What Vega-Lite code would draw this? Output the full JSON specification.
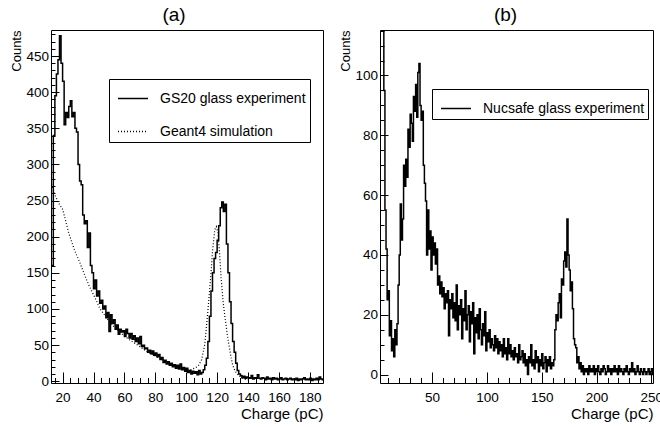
{
  "$schema": "https://vega.github.io/schema/vega-lite/v6.json",
  "background": "white",
  "padding": {"left": 10, "top": 5, "right": 0, "bottom": 0},
  "bounds": "flush",
  "spacing": 57,
  "resolve": {"scale": {"strokeDash": "independent"}, "legend": {"strokeDash": "independent"}},
  "config": {
    "font": "Liberation Sans",
    "view": {"stroke": "black", "strokeWidth": 1},
    "axis": {"grid": false, "domain": false, "tickColor": "black", "labelColor": "black", "titleColor": "black", "labelFontSize": 13.5, "titleFontWeight": "normal", "labelFont": "Liberation Sans", "titleFont": "Liberation Sans", "labelOverlap": false, "labelFlush": false, "tickWidth": 1},
    "title": {"font": "Liberation Sans", "fontSize": 19, "fontWeight": "normal", "color": "black"},
    "legend": {"orient": "none", "title": null, "strokeColor": "black", "fillColor": "white", "padding": 3.5, "symbolType": "stroke", "symbolSize": 900, "symbolStrokeWidth": 1.5, "symbolStrokeColor": "black", "labelFontSize": 14, "labelFont": "Liberation Sans", "labelColor": "black", "labelLimit": 400, "rowPadding": 10, "symbolOffset": 4.5, "labelOffset": 11}
  },
  "datasets": {
    "aexp": [
      {"x":13,"y":160},{"x":14,"y":340},{"x":15,"y":395},{"x":16,"y":425},{"x":17,"y":445},{"x":18,"y":478},{"x":19,"y":440},{"x":20,"y":415},{"x":21,"y":355},{"x":22,"y":372},
      {"x":23,"y":365},{"x":24,"y":380},{"x":25,"y":388},{"x":26,"y":366},{"x":27,"y":372},{"x":28,"y":350},{"x":29,"y":345},{"x":30,"y":300},{"x":31,"y":277},{"x":32,"y":272},
      {"x":33,"y":230},{"x":34,"y":218},{"x":35,"y":222},{"x":36,"y":185},{"x":37,"y":205},{"x":38,"y":160},{"x":39,"y":150},{"x":40,"y":128},{"x":41,"y":140},{"x":42,"y":118},
      {"x":43,"y":125},{"x":44,"y":108},{"x":45,"y":112},{"x":46,"y":100},{"x":47,"y":104},{"x":48,"y":88},{"x":49,"y":95},{"x":50,"y":69},{"x":51,"y":92},{"x":52,"y":80},
      {"x":53,"y":85},{"x":54,"y":72},{"x":55,"y":78},{"x":56,"y":65},{"x":57,"y":72},{"x":58,"y":68},{"x":59,"y":70},{"x":60,"y":62},{"x":61,"y":72},{"x":62,"y":66},
      {"x":63,"y":60},{"x":64,"y":66},{"x":65,"y":58},{"x":66,"y":63},{"x":67,"y":55},{"x":68,"y":60},{"x":69,"y":52},{"x":70,"y":62},{"x":71,"y":48},{"x":72,"y":50},
      {"x":73,"y":45},{"x":74,"y":46},{"x":75,"y":40},{"x":76,"y":43},{"x":77,"y":38},{"x":78,"y":42},{"x":79,"y":36},{"x":80,"y":39},{"x":81,"y":34},{"x":82,"y":37},
      {"x":83,"y":30},{"x":84,"y":33},{"x":85,"y":26},{"x":86,"y":29},{"x":87,"y":24},{"x":88,"y":27},{"x":89,"y":22},{"x":90,"y":25},{"x":91,"y":20},{"x":92,"y":23},
      {"x":93,"y":18},{"x":94,"y":22},{"x":95,"y":17},{"x":96,"y":24},{"x":97,"y":16},{"x":98,"y":19},{"x":99,"y":14},{"x":100,"y":18},{"x":101,"y":12},{"x":102,"y":15},
      {"x":103,"y":10},{"x":104,"y":14},{"x":105,"y":11},{"x":106,"y":13},{"x":107,"y":9},{"x":108,"y":15},{"x":109,"y":10},{"x":110,"y":12},{"x":111,"y":16},{"x":112,"y":22},
      {"x":113,"y":32},{"x":114,"y":55},{"x":115,"y":90},{"x":116,"y":125},{"x":117,"y":150},{"x":118,"y":170},{"x":119,"y":178},{"x":120,"y":195},{"x":121,"y":215},{"x":122,"y":240},
      {"x":123,"y":248},{"x":124,"y":235},{"x":125,"y":245},{"x":126,"y":190},{"x":127,"y":150},{"x":128,"y":110},{"x":129,"y":80},{"x":130,"y":55},{"x":131,"y":40},{"x":132,"y":25},
      {"x":133,"y":15},{"x":134,"y":10},{"x":135,"y":8},{"x":136,"y":5},{"x":137,"y":7},{"x":138,"y":4},{"x":139,"y":6},{"x":140,"y":5},{"x":141,"y":4},{"x":142,"y":8},
      {"x":143,"y":3},{"x":144,"y":5},{"x":145,"y":4},{"x":146,"y":9},{"x":147,"y":4},{"x":148,"y":3},{"x":149,"y":5},{"x":150,"y":4},{"x":151,"y":2},{"x":152,"y":6},
      {"x":153,"y":3},{"x":154,"y":4},{"x":155,"y":2},{"x":156,"y":5},{"x":157,"y":3},{"x":158,"y":4},{"x":159,"y":2},{"x":160,"y":3},{"x":161,"y":5},{"x":162,"y":2},
      {"x":163,"y":3},{"x":164,"y":4},{"x":165,"y":2},{"x":166,"y":3},{"x":167,"y":4},{"x":168,"y":2},{"x":169,"y":3},{"x":170,"y":2},{"x":171,"y":4},{"x":172,"y":1},
      {"x":173,"y":3},{"x":174,"y":2},{"x":175,"y":3},{"x":176,"y":5},{"x":177,"y":2},{"x":178,"y":3},{"x":179,"y":2},{"x":180,"y":4},{"x":181,"y":1},{"x":182,"y":3},
      {"x":183,"y":2},{"x":184,"y":4},{"x":185,"y":2},{"x":186,"y":6},{"x":187,"y":3},{"x":188,"y":2},{"x":189,"y":2}
    ],
    "asim": [
      {"x":12.5,"y":277},{"x":13,"y":272},{"x":15,"y":258},{"x":17,"y":248},{"x":20,"y":238},{"x":22,"y":222},{"x":24,"y":205},{"x":26.5,"y":189},{"x":28,"y":180},{"x":30.8,"y":166},
      {"x":33,"y":154},{"x":35,"y":143},{"x":37,"y":133},{"x":39.5,"y":122},{"x":42,"y":111},{"x":44,"y":101},{"x":47,"y":92},{"x":50,"y":83},{"x":53,"y":76},{"x":57,"y":68},
      {"x":61,"y":61},{"x":65,"y":55},{"x":70,"y":48},{"x":74,"y":42},{"x":78,"y":37},{"x":83,"y":32},{"x":87,"y":27},{"x":91,"y":23},{"x":96,"y":19},{"x":100,"y":16},
      {"x":103,"y":16},{"x":106,"y":18.5},{"x":108,"y":22},{"x":110,"y":30},{"x":112,"y":51},{"x":114,"y":97},{"x":116,"y":148},{"x":117,"y":180},{"x":118.5,"y":210},{"x":119.5,"y":214},
      {"x":120.5,"y":205},{"x":121.5,"y":180},{"x":122.5,"y":145},{"x":123.8,"y":111},{"x":125,"y":90},{"x":126,"y":74},{"x":127,"y":58},{"x":128,"y":46},{"x":129,"y":33},{"x":130,"y":23},
      {"x":131,"y":17},{"x":132.4,"y":11.5},{"x":134.6,"y":7},{"x":136,"y":5},{"x":138,"y":3},{"x":140,"y":2}
    ],
    "bexp": [
      {"x":3,"y":140},{"x":4,"y":135},{"x":5,"y":125},{"x":6,"y":95},{"x":7,"y":55},{"x":8,"y":42},{"x":9,"y":25},{"x":10,"y":28},{"x":11,"y":13},{"x":12,"y":18},
      {"x":13,"y":8},{"x":14,"y":12},{"x":15,"y":6},{"x":16,"y":15},{"x":17,"y":10},{"x":18,"y":17},{"x":19,"y":30},{"x":20,"y":40},{"x":21,"y":57},{"x":22,"y":45},
      {"x":23,"y":52},{"x":24,"y":70},{"x":25,"y":63},{"x":26,"y":72},{"x":27,"y":66},{"x":28,"y":82},{"x":29,"y":76},{"x":30,"y":87},{"x":31,"y":84},{"x":32,"y":78},
      {"x":33,"y":93},{"x":34,"y":88},{"x":35,"y":97},{"x":36,"y":86},{"x":37,"y":101},{"x":38,"y":104},{"x":39,"y":90},{"x":40,"y":85},{"x":41,"y":88},{"x":42,"y":70},
      {"x":43,"y":64},{"x":44,"y":58},{"x":45,"y":40},{"x":46,"y":55},{"x":47,"y":42},{"x":48,"y":48},{"x":49,"y":35},{"x":50,"y":46},{"x":51,"y":40},{"x":52,"y":44},
      {"x":53,"y":37},{"x":54,"y":42},{"x":55,"y":30},{"x":56,"y":33},{"x":57,"y":27},{"x":58,"y":31},{"x":59,"y":26},{"x":60,"y":29},{"x":61,"y":22},{"x":62,"y":27},
      {"x":63,"y":24},{"x":64,"y":28},{"x":65,"y":13},{"x":66,"y":25},{"x":67,"y":22},{"x":68,"y":27},{"x":69,"y":19},{"x":70,"y":24},{"x":71,"y":18},{"x":72,"y":30},
      {"x":73,"y":15},{"x":74,"y":23},{"x":75,"y":20},{"x":76,"y":25},{"x":77,"y":12},{"x":78,"y":22},{"x":79,"y":18},{"x":80,"y":28},{"x":81,"y":15},{"x":82,"y":20},
      {"x":83,"y":23},{"x":84,"y":11},{"x":85,"y":21},{"x":86,"y":17},{"x":87,"y":24},{"x":88,"y":7},{"x":89,"y":19},{"x":90,"y":14},{"x":91,"y":20},{"x":92,"y":12},
      {"x":93,"y":22},{"x":94,"y":15},{"x":95,"y":10},{"x":96,"y":17},{"x":97,"y":13},{"x":98,"y":21},{"x":99,"y":8},{"x":100,"y":14},{"x":101,"y":11},{"x":102,"y":15},
      {"x":103,"y":9},{"x":104,"y":12},{"x":105,"y":10},{"x":106,"y":8},{"x":107,"y":13},{"x":108,"y":9},{"x":109,"y":12},{"x":110,"y":7},{"x":111,"y":11},{"x":112,"y":8},
      {"x":113,"y":10},{"x":114,"y":6},{"x":115,"y":12},{"x":116,"y":7},{"x":117,"y":9},{"x":118,"y":5},{"x":119,"y":12},{"x":120,"y":7},{"x":121,"y":10},{"x":122,"y":6},
      {"x":123,"y":8},{"x":124,"y":5},{"x":125,"y":9},{"x":126,"y":6},{"x":127,"y":7},{"x":128,"y":4},{"x":129,"y":10},{"x":130,"y":5},{"x":131,"y":6},{"x":132,"y":8},
      {"x":133,"y":4},{"x":134,"y":7},{"x":135,"y":3},{"x":136,"y":5},{"x":137,"y":0},{"x":138,"y":6},{"x":139,"y":4},{"x":140,"y":10},{"x":141,"y":3},{"x":142,"y":5},
      {"x":143,"y":2},{"x":144,"y":8},{"x":145,"y":4},{"x":146,"y":6},{"x":147,"y":1},{"x":148,"y":5},{"x":149,"y":3},{"x":150,"y":7},{"x":151,"y":2},{"x":152,"y":4},
      {"x":153,"y":6},{"x":154,"y":1},{"x":155,"y":5},{"x":156,"y":3},{"x":157,"y":6},{"x":158,"y":2},{"x":159,"y":4},{"x":160,"y":3},{"x":161,"y":5},{"x":162,"y":15},
      {"x":163,"y":20},{"x":164,"y":18},{"x":165,"y":24},{"x":166,"y":27},{"x":167,"y":19},{"x":168,"y":32},{"x":169,"y":30},{"x":170,"y":38},{"x":171,"y":41},{"x":172,"y":36},
      {"x":173,"y":52},{"x":174,"y":40},{"x":175,"y":35},{"x":176,"y":28},{"x":177,"y":31},{"x":178,"y":22},{"x":179,"y":12},{"x":180,"y":10},{"x":181,"y":9},{"x":182,"y":4},
      {"x":183,"y":6},{"x":184,"y":2},{"x":185,"y":4},{"x":186,"y":1},{"x":187,"y":3},{"x":188,"y":0},{"x":189,"y":2},{"x":190,"y":1},{"x":191,"y":2},{"x":192,"y":0},
      {"x":193,"y":3},{"x":194,"y":1},{"x":195,"y":2},{"x":196,"y":1},{"x":197,"y":3},{"x":198,"y":0},{"x":199,"y":2},{"x":200,"y":1},{"x":201,"y":3},{"x":202,"y":1},
      {"x":203,"y":0},{"x":204,"y":2},{"x":205,"y":1},{"x":206,"y":3},{"x":207,"y":2},{"x":208,"y":0},{"x":209,"y":1},{"x":210,"y":3},{"x":211,"y":1},{"x":212,"y":2},
      {"x":213,"y":0},{"x":214,"y":2},{"x":215,"y":1},{"x":216,"y":3},{"x":217,"y":1},{"x":218,"y":2},{"x":219,"y":0},{"x":220,"y":3},{"x":221,"y":1},{"x":222,"y":2},
      {"x":223,"y":1},{"x":224,"y":0},{"x":225,"y":2},{"x":226,"y":1},{"x":227,"y":3},{"x":228,"y":1},{"x":229,"y":0},{"x":230,"y":2},{"x":231,"y":1},{"x":232,"y":4},
      {"x":233,"y":1},{"x":234,"y":2},{"x":235,"y":0},{"x":236,"y":1},{"x":237,"y":3},{"x":238,"y":1},{"x":239,"y":0},{"x":240,"y":2},{"x":241,"y":1},{"x":242,"y":0},
      {"x":243,"y":2},{"x":244,"y":1},{"x":245,"y":0},{"x":246,"y":1},{"x":247,"y":2},{"x":248,"y":0},{"x":249,"y":1},{"x":250,"y":2},{"x":251,"y":0},{"x":252,"y":1}
    ]
  },
  "hconcat": [
    {
      "width": 272,
      "height": 353,
      "title": {"text": "(a)", "dx": -13, "offset": 5},
      "resolve": {"axis": {"x": "independent", "y": "independent"}},
      "layer": [
        {
          "data": {"name": "aexp"},
          "mark": {"type": "line", "interpolate": "step-after", "color": "black", "strokeWidth": 1.5, "clip": true},
          "encoding": {
            "x": {"field": "x", "type": "quantitative", "scale": {"domain": [12.5, 188.5], "nice": false, "zero": false},
              "axis": {"orient": "bottom", "title": "Charge (pC)", "titleFontSize": 15, "titleAnchor": "end", "titlePadding": 3,
                "values": [20,40,60,80,100,120,140,160,180], "offset": -11, "tickSize": 11, "labelPadding": 7}},
            "y": {"field": "y", "type": "quantitative", "scale": {"domain": [-2.4, 486], "nice": false, "zero": false},
              "axis": {"orient": "left", "title": "Counts", "titleFontSize": 13, "titleAngle": 270, "titleAnchor": "end", "titlePadding": 2,
                "values": [0,50,100,150,200,250,300,350,400,450], "offset": -8, "tickSize": 8, "labelPadding": 2.5}},
            "strokeDash": {"datum": "GS20 glass experiment", "type": "nominal",
              "scale": {"domain": ["GS20 glass experiment", "Geant4 simulation"], "range": [[1, 0], [1, 2]]},
              "legend": {"legendX": 58, "legendY": 49}}
          }
        },
        {
          "data": {"name": "asim"},
          "mark": {"type": "line", "color": "black", "strokeWidth": 1.2, "clip": true},
          "encoding": {
            "x": {"field": "x", "type": "quantitative",
              "axis": {"orient": "bottom", "title": null, "labels": false,
                "values": [15,25,30,35,45,50,55,65,70,75,85,90,95,105,110,115,125,130,135,145,150,155,165,170,175,185], "offset": -5.5, "tickSize": 5.5}},
            "y": {"field": "y", "type": "quantitative",
              "axis": {"orient": "left", "title": null, "labels": false,
                "values": [10,20,30,40,60,70,80,90,110,120,130,140,160,170,180,190,210,220,230,240,260,270,280,290,310,320,330,340,360,370,380,390,410,420,430,440,460,470,480], "offset": -4, "tickSize": 4}},
            "strokeDash": {"datum": "Geant4 simulation", "type": "nominal"}
          }
        }
      ]
    },
    {
      "width": 273,
      "height": 353,
      "title": {"text": "(b)", "dx": -11, "offset": 5},
      "data": {"name": "bexp"},
      "resolve": {"axis": {"x": "independent", "y": "independent"}},
      "layer": [
        {
          "mark": {"type": "line", "interpolate": "step-after", "color": "black", "strokeWidth": 1.5, "clip": true},
          "encoding": {
            "x": {"field": "x", "type": "quantitative", "scale": {"domain": [2.5, 251.5], "nice": false, "zero": false},
              "axis": {"orient": "bottom", "title": "Charge (pC)", "titleFontSize": 15, "titleAnchor": "end", "titlePadding": 3,
                "values": [50,100,150,200,250], "offset": -11, "tickSize": 11, "labelPadding": 7}},
            "y": {"field": "y", "type": "quantitative", "scale": {"domain": [-2.8, 115.2], "nice": false, "zero": false},
              "axis": {"orient": "left", "title": "Counts", "titleFontSize": 13, "titleAngle": 270, "titleAnchor": "end", "titlePadding": 2,
                "values": [0,20,40,60,80,100], "offset": -8, "tickSize": 8, "labelPadding": 2.5}},
            "strokeDash": {"datum": "Nucsafe glass experiment", "type": "nominal",
              "scale": {"domain": ["Nucsafe glass experiment"], "range": [[1, 0]]},
              "legend": {"legendX": 52, "legendY": 59}}
          }
        },
        {
          "mark": {"type": "line", "interpolate": "step-after", "opacity": 0, "clip": true},
          "encoding": {
            "x": {"field": "x", "type": "quantitative",
              "axis": {"orient": "bottom", "title": null, "labels": false,
                "values": [10,20,30,40,60,70,80,90,110,120,130,140,160,170,180,190,210,220,230,240], "offset": -5.5, "tickSize": 5.5}},
            "y": {"field": "y", "type": "quantitative",
              "axis": {"orient": "left", "title": null, "labels": false,
                "values": [5,10,15,25,30,35,45,50,55,65,70,75,85,90,95,105,110,115], "offset": -4, "tickSize": 4}}
          }
        }
      ]
    }
  ]
}
